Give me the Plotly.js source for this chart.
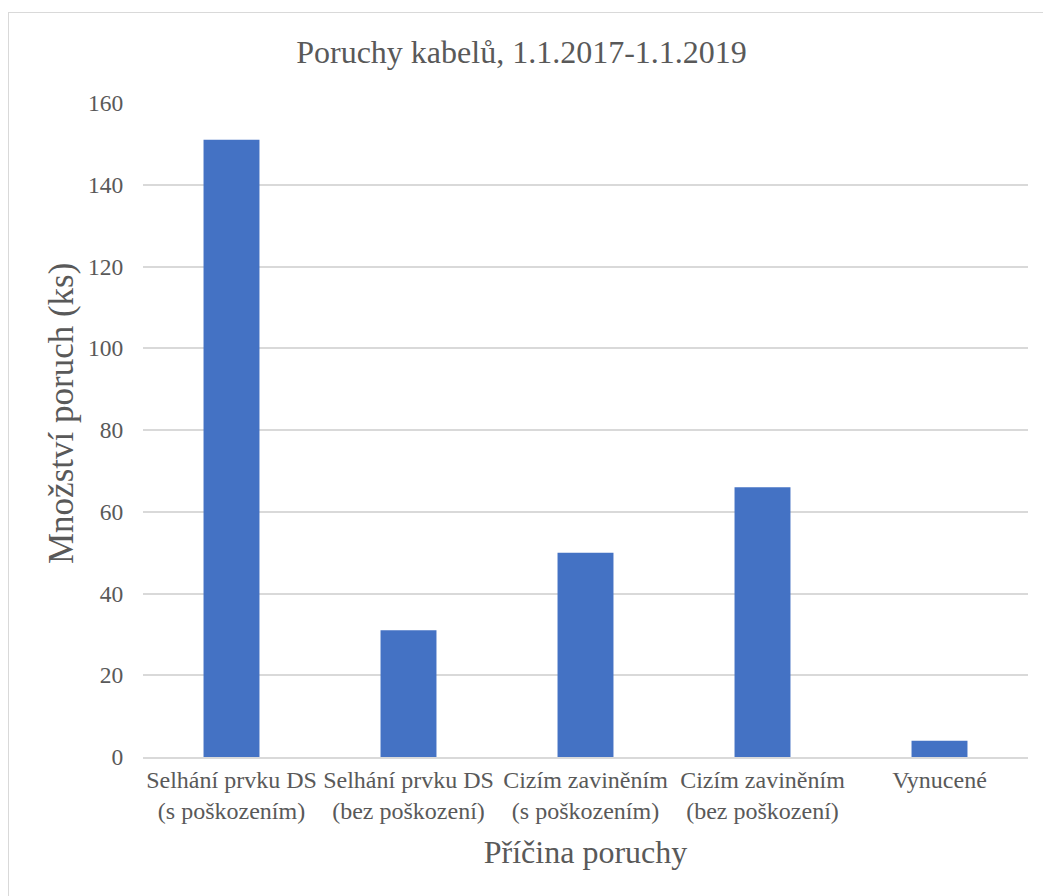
<!DOCTYPE html>
<html><head><meta charset="utf-8">
<script src="https://cdn.plot.ly/plotly-3.0.1.min.js"></script>
<style>
html,body{margin:0;padding:0;background:#fff;overflow:hidden;}
#frame{position:absolute;left:8px;top:12px;width:1100px;height:1000px;border:1.5px solid #d9d9d9;box-sizing:border-box;}
#chart{position:absolute;left:0;top:0;width:1043px;height:896px;}
</style></head>
<body>
<div id="frame"></div>
<div id="chart"></div>
<script>
const categories = ["Selhání prvku DS<br>(s poškozením)", "Selhání prvku DS<br>(bez poškození)", "Cizím zaviněním<br>(s poškozením)", "Cizím zaviněním<br>(bez poškození)", "Vynucené"];
const values = [151, 31, 50, 66, 4];
const yTicks = [0, 20, 40, 60, 80, 100, 120, 140, 160];

const font = "Liberation Serif";
const L = 143, R = 15, T = 103, B = 139, W = 1043, H = 896;
const pw = W - L - R, ph = H - T - B;
Plotly.newPlot("chart", [{
  type: "bar", x: categories, y: values,
  marker: {color: "#4472C4"}, hoverinfo: "x+y"
}], {
  width: W, height: H,
  paper_bgcolor: "rgba(0,0,0,0)", plot_bgcolor: "rgba(0,0,0,0)",
  margin: {l: L, r: R, t: T, b: B},
  bargap: 0.684,
  font: {family: font, color: "#595959", size: 23},
  title: {text: "Poruchy kabelů, 1.1.2017-1.1.2019", font: {family: font, size: 32, color: "#595959"}, x: 0.5, xref: "container", xanchor: "center", y: 1 - 52/896, yanchor: "middle"},
  xaxis: {
    title: {text: "Příčina poruchy", font: {family: font, size: 32, color: "#595959"}, standoff: 18},
    tickfont: {family: font, size: 24, color: "#595959"},
    showline: true, linecolor: "#d9d9d9", linewidth: 2, showgrid: false, ticks: "", automargin: false
  },
  yaxis: {
    tickfont: {family: font, size: 23.5, color: "#595959"},
    range: [0, 160], tickvals: yTicks, ticktext: yTicks.map(String),
    showgrid: true, gridcolor: "#d9d9d9", gridwidth: 2, zeroline: false, showline: false,
    ticks: "outside", ticklen: 14, tickcolor: "rgba(0,0,0,0)", automargin: false
  },
  annotations: [{
    text: "Množství poruch (ks)", textangle: -90, showarrow: false,
    xref: "paper", yref: "paper", x: (61 - L) / pw, y: (H - B - 414) / ph,
    xanchor: "center", yanchor: "middle",
    font: {family: font, size: 35, color: "#595959"}
  }],
  showlegend: false
}, {displayModeBar: false, staticPlot: true});
</script>
</body></html>
